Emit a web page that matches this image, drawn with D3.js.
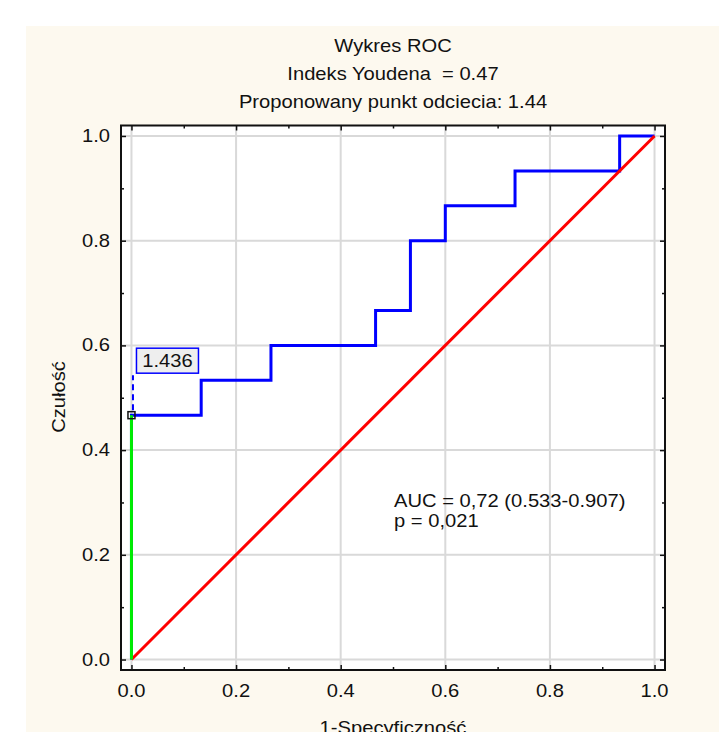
<!DOCTYPE html>
<html><head><meta charset="utf-8">
<script src="https://cdn.jsdelivr.net/npm/d3@7"></script>
<style>html,body{margin:0;padding:0;background:#fff;}svg{display:block;}text{font-family:"Liberation Sans",Arial,sans-serif;fill:#111;white-space:pre;}</style>
</head><body>
<svg id="c" width="719" height="732"></svg>
<script>
const titleLines = ["Wykres ROC", "Indeks Youdena  = 0.47", "Proponowany punkt odciecia: 1.44"];
const rocFpr = [0, 0, 0.1333, 0.1333, 0.2667, 0.2667, 0.4667, 0.4667, 0.5333, 0.5333, 0.6, 0.6, 0.7333, 0.7333, 0.9333, 0.9333, 1.0];
const rocTpr = [0, 0.4667, 0.4667, 0.5333, 0.5333, 0.6, 0.6, 0.6667, 0.6667, 0.8, 0.8, 0.8667, 0.8667, 0.9333, 0.9333, 1.0, 1.0];
const cutoffPoint = [0, 0.4667];
const cutoffLabel = "1.436";
const majorTicks = [0, 0.2, 0.4, 0.6, 0.8, 1.0];
const minorTicks = [0.1, 0.3, 0.5, 0.7, 0.9];
const annotations = ["AUC = 0,72 (0.533-0.907)", "p = 0,021"];
const xLabel = "1-Specyficzność", yLabel = "Czułość";

const SX = 1.12; // glyph widening to match reference
const svg = d3.select("#c");
svg.append("rect").attr("x",26).attr("y",26).attr("width",719-26).attr("height",732-26).attr("fill","#fdf9ef");

const L=121, T=125.5, R=665, B=670;
const x = d3.scaleLinear().domain([-0.02,1.02]).range([L,R]);
const y = d3.scaleLinear().domain([-0.02,1.02]).range([B,T]);

function txt(px, py, s, anchor, size, rot){
  const g = svg.append("g").attr("transform",`translate(${px},${py})${rot?` rotate(${rot})`:""} scale(${SX},1)`);
  g.append("text").attr("text-anchor",anchor).attr("font-size",size).text(s);
  return g;
}

svg.append("rect").attr("x",L).attr("y",T).attr("width",R-L).attr("height",B-T).attr("fill","#fff");

// grid
const g = svg.append("g");
g.selectAll(".gx").data(majorTicks).join("line").attr("x1",d=>x(d)).attr("x2",d=>x(d)).attr("y1",T).attr("y2",B).attr("stroke","#d9d9d9").attr("stroke-width",2);
g.selectAll(".gy").data(majorTicks).join("line").attr("y1",d=>y(d)).attr("y2",d=>y(d)).attr("x1",L).attr("x2",R).attr("stroke","#d9d9d9").attr("stroke-width",2);

// axes with inward ticks
function addAxis(gen, tr, ticks, size){
  const a = svg.append("g").attr("transform",tr).call(gen.tickValues(ticks).tickSize(size).tickFormat(""));
  a.select(".domain").remove();
  a.selectAll("line").attr("stroke","#111").attr("stroke-width",1.5);
}
addAxis(d3.axisBottom(x), `translate(0,${T})`, majorTicks, 5);
addAxis(d3.axisBottom(x), `translate(0,${T})`, minorTicks, 3);
addAxis(d3.axisTop(x), `translate(0,${B})`, majorTicks, 5);
addAxis(d3.axisTop(x), `translate(0,${B})`, minorTicks, 3);
addAxis(d3.axisRight(y), `translate(${L},0)`, majorTicks, 5);
addAxis(d3.axisRight(y), `translate(${L},0)`, minorTicks, 3);
addAxis(d3.axisLeft(y), `translate(${R},0)`, majorTicks, 5);
addAxis(d3.axisLeft(y), `translate(${R},0)`, minorTicks, 3);

// tick labels
majorTicks.forEach(d=>txt(x(d), 697, d.toFixed(1), "middle", 18));
majorTicks.forEach(d=>txt(110, y(d)+6, d.toFixed(1), "end", 18));

// frame
svg.append("rect").attr("x",L).attr("y",T).attr("width",R-L).attr("height",B-T).attr("fill","none").attr("stroke","#111").attr("stroke-width",2);

// ROC curve
const pts = rocFpr.map((f,i)=>[f,rocTpr[i]]);
svg.append("path").datum(pts).attr("d",d3.line().x(d=>x(d[0])).y(d=>y(d[1]))).attr("fill","none").attr("stroke","#0000ff").attr("stroke-width",3);
// diagonal
svg.append("path").datum([[0,0],[1,1]]).attr("d",d3.line().x(d=>x(d[0])).y(d=>y(d[1]))).attr("fill","none").attr("stroke","#ff0000").attr("stroke-width",3);
// green Youden segment
svg.append("path").datum([[0,0],cutoffPoint]).attr("d",d3.line().x(d=>x(d[0])).y(d=>y(d[1]))).attr("fill","none").attr("stroke","#00ee00").attr("stroke-width",3);

// cutoff marker
const cx = x(cutoffPoint[0]), cy = y(cutoffPoint[1]);
svg.append("rect").attr("x",cx-3.5).attr("y",cy-3.5).attr("width",7).attr("height",7).attr("fill","none").attr("stroke","#111").attr("stroke-width",1.5);
svg.append("line").attr("x1",cx+1.5).attr("x2",cx+1.5).attr("y1",cy-5).attr("y2",cy-40).attr("stroke","#0000ff").attr("stroke-width",2).attr("stroke-dasharray","6,4");
svg.append("rect").attr("x",cx+5).attr("y",cy-67).attr("width",62).attr("height",25).attr("fill","#eeeeee").attr("stroke","#0000ff").attr("stroke-width",1.5);
txt(cx+36, cy-48, cutoffLabel, "middle", 18);

// annotations
annotations.forEach((s,i)=>txt(394, 507+i*20, s, "start", 18));

// titles
titleLines.forEach((s,i)=>txt(393, 52+i*28, s, "middle", 18));

// axis labels
txt(393, 734, xLabel, "middle", 18);
txt(65, 397, yLabel, "middle", 18, -90);
</script>
</body></html>
